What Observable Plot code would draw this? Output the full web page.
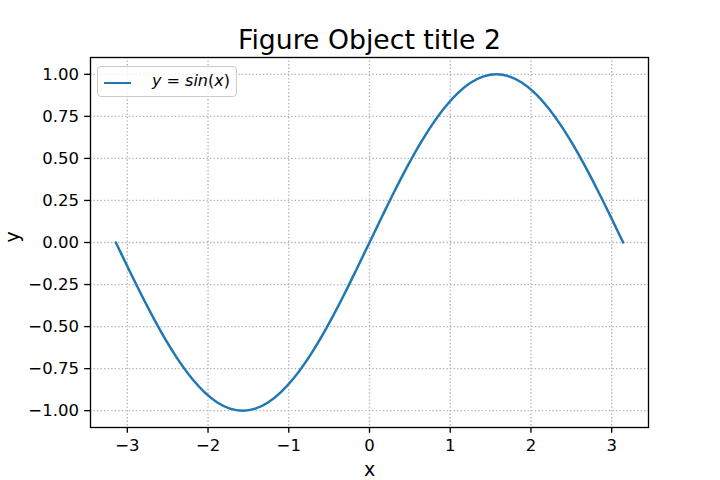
<!DOCTYPE html>
<html>
<head>
<meta charset="utf-8">
<script src="https://cdn.jsdelivr.net/npm/d3@7"></script>
<script src="https://cdn.jsdelivr.net/npm/@observablehq/plot@0.6"></script>
<style>
  body { margin: 0; background: #fff; }
  #wrap { position: relative; width: 720px; height: 480px; font-family: "DejaVu Sans", sans-serif; }
  #legend { position: absolute; left: 97px; top: 66px; width: 140px; height: 31px; box-sizing: border-box;
    border: 1px solid #cccccc; border-radius: 4px; background: rgba(255,255,255,0.8); }
  #legend .swatch { position: absolute; left: 6px; top: 14.5px; width: 27px; height: 2.5px; background: #1f77b4; }
  #legend .lbl { position: absolute; left: 54px; top: 4px; font-size: 16px; line-height: 20px; color: #000; white-space: nowrap; }
  #legend i { font-style: italic; }
</style>
</head>
<body>
<div id="wrap"></div>
<script>
const title = "Figure Object title 2";
const xLabel = "x";
const yLabel = "y";
const xTicks = [-3, -2, -1, 0, 1, 2, 3];
const yTicks = [-1.0, -0.75, -0.5, -0.25, 0.0, 0.25, 0.5, 0.75, 1.0];
const xs = [-3.142, -2.985, -2.827, -2.670, -2.513, -2.356, -2.199, -2.042, -1.885, -1.728,
            -1.571, -1.414, -1.257, -1.100, -0.942, -0.785, -0.628, -0.471, -0.314, -0.157,
             0.000,  0.157,  0.314,  0.471,  0.628,  0.785,  0.942,  1.100,  1.257,  1.414,
             1.571,  1.728,  1.885,  2.042,  2.199,  2.356,  2.513,  2.670,  2.827,  2.985, 3.142];
const ys = [ 0.000, -0.156, -0.309, -0.454, -0.588, -0.707, -0.809, -0.891, -0.951, -0.988,
            -1.000, -0.988, -0.951, -0.891, -0.809, -0.707, -0.588, -0.454, -0.309, -0.156,
             0.000,  0.156,  0.309,  0.454,  0.588,  0.707,  0.809,  0.891,  0.951,  0.988,
             1.000,  0.988,  0.951,  0.891,  0.809,  0.707,  0.588,  0.454,  0.309,  0.156, 0.000];
const data = xs.map((x, i) => ({x, y: ys[i]}));

const fmtY = d3.format(".2f");
const plot = Plot.plot({
  width: 720,
  height: 480,
  marginLeft: 90,
  marginRight: 72,
  marginTop: 57,
  marginBottom: 53,
  style: {fontFamily: "DejaVu Sans, sans-serif", background: "#fff", color: "#000"},
  x: {domain: [-3.4558, 3.4558]},
  y: {domain: [-1.1, 1.1]},
  marks: [
    Plot.gridX(xTicks, {stroke: "#b0b0b0", strokeOpacity: 1, strokeDasharray: "1.33,2.2", strokeWidth: 1.33}),
    Plot.gridY(yTicks, {stroke: "#b0b0b0", strokeOpacity: 1, strokeDasharray: "1.33,2.2", strokeWidth: 1.33}),
    Plot.line(data, {x: "x", y: "y", stroke: "#1f77b4", strokeWidth: 2.5, curve: "catmull-rom"}),
    Plot.frame({stroke: "#000", strokeWidth: 1.33}),
    Plot.axisX(xTicks, {tickSize: 5.8, tickPadding: 5.8, fontSize: 16.5, label: null, stroke: "#000", strokeWidth: 1.33, tickFormat: d3.format("d")}),
    Plot.axisY(yTicks, {tickSize: 5.8, tickPadding: 5.8, fontSize: 16.5, label: null, stroke: "#000", strokeWidth: 1.33, tickFormat: fmtY}),
    Plot.text([title], {frameAnchor: "top", lineAnchor: "bottom", dy: -9, fontSize: 26.7, fill: "#000"}),
    Plot.text([xLabel], {frameAnchor: "bottom", lineAnchor: "bottom", dy: 48, fontSize: 19, fill: "#000"}),
    Plot.text([yLabel], {frameAnchor: "left", lineAnchor: "bottom", dx: -72, rotate: -90, fontSize: 19, fill: "#000"})
  ]
});
const wrap = document.getElementById("wrap");
wrap.appendChild(plot);
const legend = document.createElement("div");
legend.id = "legend";
legend.innerHTML = '<div class="swatch"></div><div class="lbl"><i>y</i> = <i>sin</i>(<i>x</i>)</div>';
wrap.appendChild(legend);
</script>
</body>
</html>
